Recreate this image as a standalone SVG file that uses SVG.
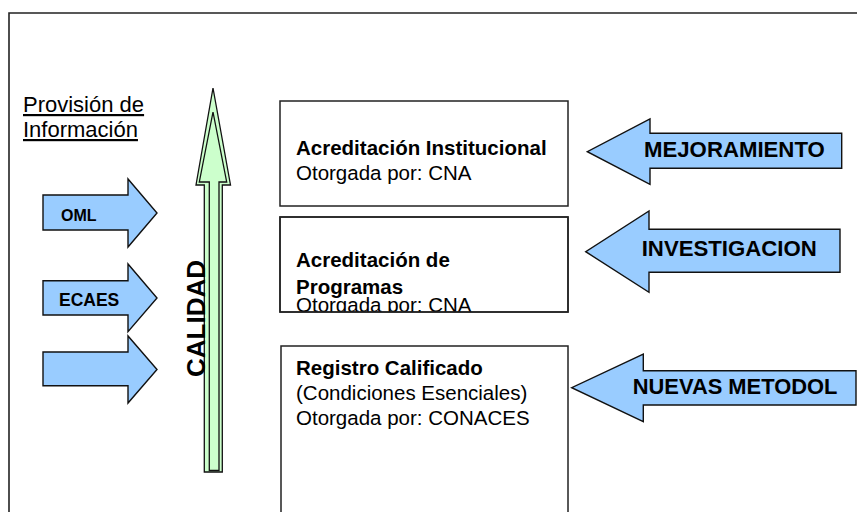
<svg xmlns="http://www.w3.org/2000/svg" width="857" height="512" viewBox="0 0 857 512">
<style>
text{font-family:"Liberation Sans",Arial,sans-serif;fill:#000}
.b{font-weight:bold}
.box{fill:#fff;stroke:#222;stroke-width:1.5}
.blue{fill:#99ccff;stroke:#111;stroke-width:1.4;stroke-linejoin:miter}
.green{fill:#ccffcc;stroke:#111;stroke-width:1.3}
.t{font-size:20.5px}
.lbl{font-size:22.2px;font-weight:bold}
</style>
<defs>
<clipPath id="clip2"><rect x="280" y="217" width="288" height="95"/></clipPath>
</defs>
<path d="M9,512 V13 H857" fill="none" stroke="#222" stroke-width="1.6"/>
<g id="provision">
<text x="23" y="112" style="font-size:22px" text-decoration="underline">Provisión de</text>
<text x="23" y="137" style="font-size:22px" text-decoration="underline">Información</text>
</g>
<g id="oml">
<polygon class="blue" points="43,195 128,195 128,179 157,213 128,247 128,230 43,230"/>
<text x="61" y="221" class="b" style="font-size:16px">OML</text>
</g>
<g id="ecaes">
<polygon class="blue" points="43,280.7 128,280.7 128,264 157,298 128,331.7 128,315 43,315"/>
<text x="59" y="305.5" class="b" style="font-size:17.5px">ECAES</text>
</g>
<g id="arrow3">
<polygon class="blue" points="43,352 128,352 128,336 157,369.5 128,403 128,385.7 43,385.7"/>
</g>
<g id="calidad">
<polygon class="green" points="213,88 230.5,185 222.3,185 222.3,472 204.3,472 204.3,185 196,185"/>
<polygon class="green" points="213,112 226.7,182 219,182 219,470.5 209.3,470.5 209.3,182 199.3,182"/>
<text transform="translate(205,318.5) rotate(-90)" text-anchor="middle" class="b" style="font-size:26px">CALIDAD</text>
</g>
<g id="box1">
<rect class="box" x="280" y="101" width="288" height="105"/>
<text x="296" y="155" class="t b">Acreditación Institucional</text>
<text x="296" y="179.5" class="t">Otorgada por: CNA</text>
</g>
<g id="box2">
<rect class="box" x="280" y="217" width="288" height="95"/>
<text x="296" y="267" class="t b">Acreditación de</text>
<text x="296" y="294" class="t b">Programas</text>
<text x="296" y="312" class="t" clip-path="url(#clip2)">Otorgada por: CNA</text>
<rect x="280" y="217" width="288" height="95" fill="none" stroke="#222" stroke-width="1.5"/>
</g>
<g id="box3">
<rect class="box" x="281" y="346" width="287" height="180"/>
<text x="296" y="375" class="t b">Registro Calificado</text>
<text x="296" y="400" class="t">(Condiciones Esenciales)</text>
<text x="296" y="424.5" class="t">Otorgada por: CONACES</text>
</g>
<g id="mejoramiento">
<polygon class="blue" points="841.7,133.3 650,133.3 650,119 587.3,151.7 650,184.3 650,168.3 841.7,168.3"/>
<text x="644" y="156.7" class="lbl">MEJORAMIENTO</text>
</g>
<g id="investigacion">
<polygon class="blue" points="840,229.3 649,229.3 649,211 585.7,251.7 649,292.3 649,272.3 840,272.3"/>
<text x="641.7" y="256" class="lbl">INVESTIGACION</text>
</g>
<g id="nuevas">
<polygon class="blue" points="856,370.7 643.3,370.7 643.3,354 571.7,387.7 643.3,421.7 643.3,405 856,405"/>
<text x="632.7" y="394" class="lbl" style="font-size:21.9px">NUEVAS METODOL</text>
</g>
<g id="connectors"></g>
</svg>
